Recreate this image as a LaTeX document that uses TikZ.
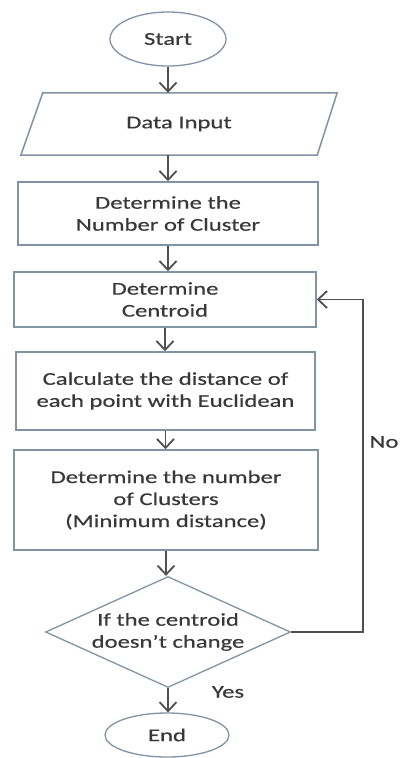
\documentclass[tikz,border=0pt]{standalone}
\usepackage{fontspec}
\setmainfont{Carlito}[FakeStretch=1.37,FakeBold=0.4]
\usetikzlibrary{shapes.geometric,arrows.meta}
\definecolor{shapeline}{HTML}{8393A6}
\definecolor{connline}{HTML}{505050}
\definecolor{txt}{HTML}{383838}
\begin{document}
\begin{tikzpicture}[x=1pt,y=-1pt,
  every node/.style={font=\fontsize{18}{22}\selectfont,text=txt,align=center,inner sep=0pt},
  procbox/.style={draw=shapeline,line width=1.5pt,rectangle,fill=white},
  terminal/.style={draw=shapeline,line width=1.3pt,ellipse,fill=white},
  decision/.style={draw=shapeline,line width=1.3pt,diamond,aspect=2.2,fill=white},
  conn/.style={draw=connline,line width=1.8pt,-{Straight Barb[length=9pt,width=17pt,line width=1.8pt]}}
]
\useasboundingbox (0,0) rectangle (402,758);
\node[terminal,minimum width=116pt,minimum height=54pt] (start) at (168,39) {Start};
\node[rectangle,minimum width=316pt,minimum height=62pt] (di) at (179,124) {Data Input};
\draw[shapeline,line width=1.5pt] ([xshift=22pt]di.north west) -- (di.north east) -- ([xshift=-20pt]di.south east) -- (di.south west) -- cycle;
\node[procbox,minimum width=300pt,minimum height=63pt] (b1) at (168,213.5) {Determine the\\Number of Cluster};
\node[procbox,minimum width=302pt,minimum height=55pt] (b2) at (165,299.5) {Determine\\Centroid};
\node[procbox,minimum width=299pt,minimum height=78pt] (b3) at (165.5,391) {Calculate the distance of\\each point with Euclidean};
\node[procbox,minimum width=304pt,minimum height=100pt] (b4) at (166,500) {Determine the number\\of Clusters\\(Minimum distance)};
\node[decision,minimum width=245pt,minimum height=111pt] (dia) at (168,632) {If the centroid\\doesn't change};
\node[terminal,minimum width=124pt,minimum height=44pt] (end) at (167,735) {End};
\node (no) at (384,442) {No};
\node (yes) at (228,692) {Yes};
\coordinate (loopx) at (363,0);
\draw[conn] (start.south) -- (start.south |- di.north);
\draw[conn] (di.south -| start.south) -- (start.south |- b1.north);
\draw[conn] (b1.south) -- (b1.south |- b2.north);
\draw[conn] (b2.south) -- (b2.south |- b3.north);
\draw[conn] (b3.south) -- (b3.south |- b4.north);
\draw[conn] (b4.south) -- (b4.south |- dia.north);
\draw[conn] (dia.south) -- (dia.south |- end.north);
\draw[conn] (dia.east) -- (dia.east -| loopx) |- (b2.east);
\end{tikzpicture}
\end{document}
